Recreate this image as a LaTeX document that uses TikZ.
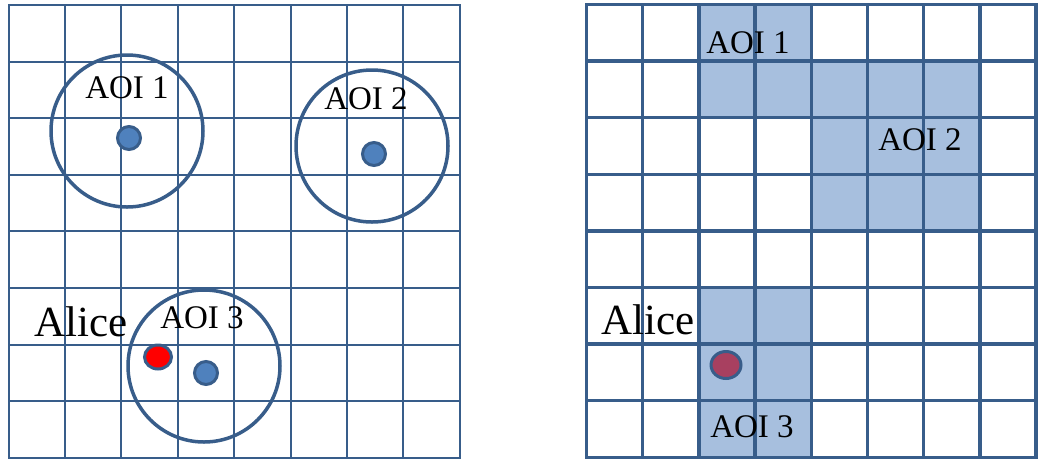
\documentclass[tikz,border=0pt]{standalone}
\usepackage{fontspec}
\setmainfont{Liberation Serif}
\usetikzlibrary{shapes.geometric}
\definecolor{gridblue}{RGB}{56,93,138}
\definecolor{dotblue}{RGB}{79,129,189}
\definecolor{cellblue}{RGB}{167,191,222}
\definecolor{alicered}{RGB}{168,64,96}

\begin{document}
\begin{tikzpicture}[x=1pt,y=-1pt]
		\tikzstyle{thingrid}=[draw=gridblue, line width=2pt, line cap=rect];
		\tikzstyle{thickgrid}=[draw=gridblue, line width=3.5pt, line cap=rect];
		\tikzstyle{area}=[draw=gridblue, line width=3.5pt, shape=circle, minimum size=152pt, inner sep=0pt];
		\tikzstyle{poi}=[fill=dotblue, draw=gridblue, line width=3pt, shape=circle, minimum size=23pt, inner sep=0pt];
		\tikzstyle{user}=[fill=red, draw=gridblue, line width=3pt, shape=ellipse, minimum width=27pt, minimum height=24pt, inner sep=0pt];
		\tikzstyle{aoitext}=[font=\fontsize{33}{33}\selectfont, inner sep=0pt];
		\tikzstyle{alicetext}=[font=\fontsize{43}{43}\selectfont, inner sep=0pt];

		\useasboundingbox (0,0) rectangle (1038,459);

		% left: circular areas
		\foreach \i in {0,...,8} {
			\draw[thingrid] (8.5+56.4*\i, 5) -- (8.5+56.4*\i, 458);
			\draw[thingrid] (8.5, 5+56.6*\i) -- (460, 5+56.6*\i);
		}

		\node[area] (A1) at (127,131) {};
		\node[area] (A2) at (372,146) {};
		\node[area] (A3) at (204,366) {};

		\node[poi] (P1) at (129,138) {};
		\node[poi] (P2) at (374,154) {};
		\node[poi] (P3) at (206,373) {};
		\node[user] (U) at (158,357) {};

		\node[aoitext] (L1) at (127,88) {AOI 1};
		\node[aoitext] (L2) at (366,99) {AOI 2};
		\node[aoitext] (L3) at (202,318) {AOI 3};
		\node[alicetext] (N) at (81,322) {Alice};

		% right: cell areas
		\fill[cellblue] (698.9,4.5) rectangle (811.3,117.7);
		\fill[cellblue] (811.3,61.1) rectangle (979.9,230.9);
		\fill[cellblue] (698.9,287.5) rectangle (811.3,457.3);

		\foreach \i in {0,...,8} {
			\draw[thickgrid] (586.5+56.2*\i, 4.5) -- (586.5+56.2*\i, 457.3);
			\draw[thickgrid] (586.5, 4.5+56.6*\i) -- (1036.1, 4.5+56.6*\i);
		}

		\node[user, fill=alicered, minimum width=30pt, minimum height=27pt] (U2) at (726,365) {};

		\node[aoitext] (R1) at (748,43) {AOI 1};
		\node[aoitext] (R2) at (920,140) {AOI 2};
		\node[aoitext] (R3) at (752,427) {AOI 3};
		\node[alicetext] (M) at (648,320) {Alice};
\end{tikzpicture}
\end{document}
